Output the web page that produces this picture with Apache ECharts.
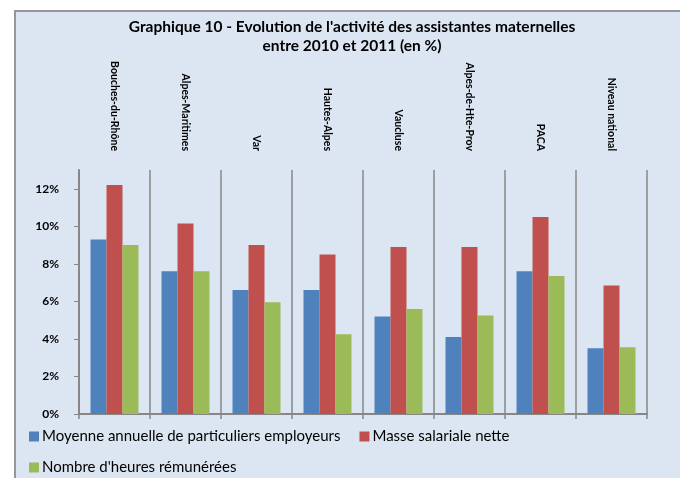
<!DOCTYPE html>
<html>
<head>
    <meta charset="utf-8">
    <script src="https://cdn.jsdelivr.net/npm/echarts@6/dist/echarts.min.js"></script>
    <style>
        body { margin: 0; background: #fff; }
        #main { width: 680px; height: 478px; }
    </style>
</head>
<body>
<div id="main"></div>
<script type="text/javascript">
    // données (en %)
    var categories = ['Bouches-du-Rhône', 'Alpes-Maritimes', 'Var', 'Hautes-Alpes', 'Vaucluse',
        'Alpes-de-Hte-Prov', 'PACA', 'Niveau national'];
    var seriesNames = ['Moyenne annuelle de particuliers employeurs', 'Masse salariale nette',
        "Nombre d'heures rémunérées"];
    var employeurs = [9.3, 7.6, 6.6, 6.6, 5.2, 4.1, 7.6, 3.5];
    var masseSalariale = [12.2, 10.15, 9.0, 8.5, 8.9, 8.9, 10.5, 6.85];
    var heures = [9.0, 7.6, 5.95, 4.25, 5.6, 5.25, 7.35, 3.55];
    var yTicks = [0, 2, 4, 6, 8, 10, 12];

    var font = 'Lato';
    var gray = '#878787';

    var myChart = echarts.init(document.getElementById('main'));
    var option = {
        backgroundColor: '#fff',
        animation: false,
        textStyle: {fontFamily: font},
        color: ['#4f81bd', '#c0504d', '#9bbb59'],
        graphic: [{
            type: 'rect', z: -10, silent: true,
            shape: {x: 15, y: 11, width: 700, height: 500},
            style: {fill: '#dce6f2', stroke: '#969696', lineWidth: 2}
        }],
        title: {
            text: "Graphique 10 - Evolution de l'activité des assistantes maternelles\nentre 2010 et 2011 (en %)",
            left: 347, top: 12, textAlign: 'center',
            textStyle: {fontFamily: font, fontSize: 15.5, fontWeight: 'bold', color: '#000', lineHeight: 19}
        },
        legend: [
            {
                data: [seriesNames[0], seriesNames[1]],
                left: 29, top: 429, padding: 0, icon: 'rect', itemWidth: 10, itemHeight: 10, itemGap: 19,
                textStyle: {fontFamily: font, fontSize: 15, color: '#000', padding: [0, 0, 0, -2]}
            },
            {
                data: [seriesNames[2]],
                left: 29, top: 460, padding: 0, icon: 'rect', itemWidth: 10, itemHeight: 10,
                textStyle: {fontFamily: font, fontSize: 15, color: '#000', padding: [0, 0, 0, -2]}
            }
        ],
        grid: {left: 79, right: 33, top: 170, bottom: 64},
        xAxis: [
            {
                type: 'category', data: categories, position: 'bottom',
                axisLine: {lineStyle: {color: gray, width: 2}},
                axisTick: {show: true, interval: 0, length: 5, lineStyle: {color: gray, width: 1.5}},
                axisLabel: {show: false, interval: 0},
                splitLine: {show: true, interval: 0, lineStyle: {color: gray, width: 1.5}}
            },
            {
                type: 'category', data: categories, position: 'top',
                axisLine: {show: false},
                axisTick: {show: false},
                axisLabel: {interval: 0, rotate: 90, margin: 19, fontFamily: font, fontSize: 10.5,
                    fontWeight: 'bold', color: '#000'}
            }
        ],
        yAxis: {
            type: 'value', min: 0, max: 13,
            axisLine: {show: true, lineStyle: {color: gray, width: 2}},
            axisTick: {show: true, length: 5, customValues: yTicks, lineStyle: {color: gray}},
            axisLabel: {
                customValues: yTicks, margin: 20, formatter: '{value}%',
                fontFamily: font, fontSize: 12, fontWeight: 'bold', color: '#000'
            },
            splitLine: {show: false}
        },
        series: [
            {name: seriesNames[0], type: 'bar', barWidth: 16, barGap: '0%', data: employeurs},
            {name: seriesNames[1], type: 'bar', barWidth: 16, barGap: '0%', data: masseSalariale},
            {name: seriesNames[2], type: 'bar', barWidth: 16, barGap: '0%', data: heures}
        ]
    };
    myChart.setOption(option);
</script>
</body>
</html>
